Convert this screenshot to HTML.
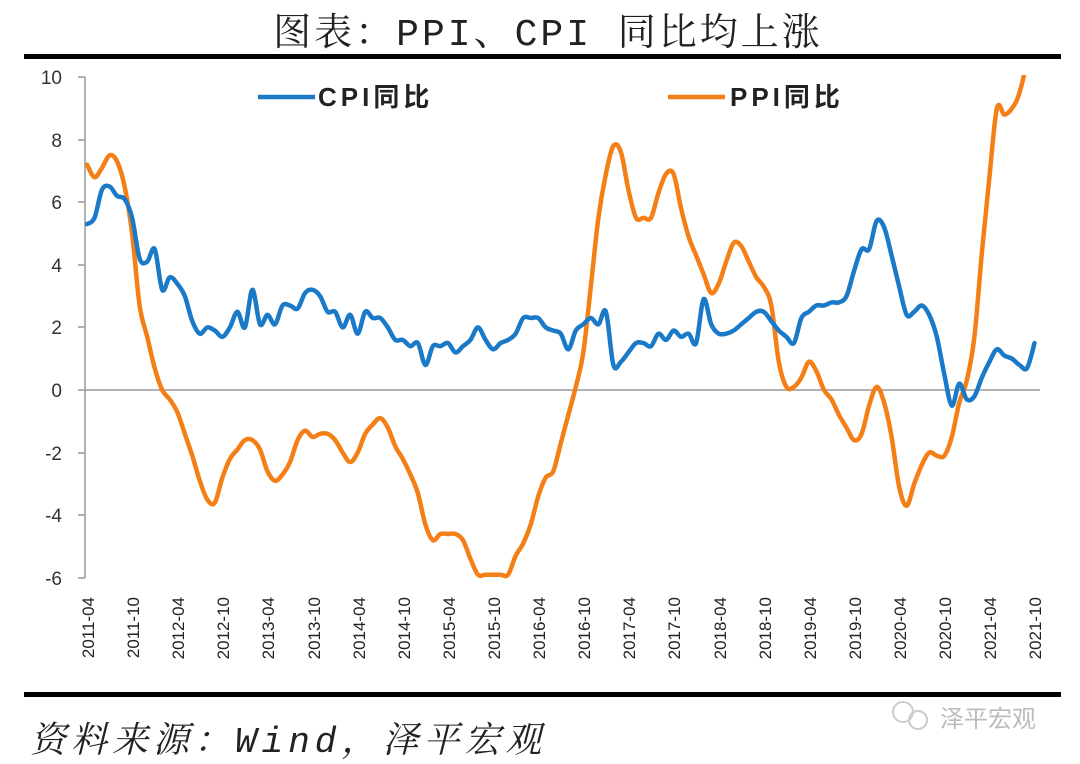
<!DOCTYPE html>
<html><head><meta charset="utf-8"><style>
html,body{margin:0;padding:0;background:#fff;}
body{width:1080px;height:764px;overflow:hidden;position:relative;}
</style></head><body>
<svg width="1080" height="764" xmlns="http://www.w3.org/2000/svg" style="position:absolute;left:0;top:0">
<text x="548" y="45" text-anchor="middle" font-family="Liberation Mono, Noto Serif CJK SC, serif" font-size="38" letter-spacing="3" fill="#222">图表：PPI、CPI 同比均上涨</text>
<rect x="24" y="54" width="1037" height="5" fill="#000"/>
<rect x="24" y="692" width="1037" height="5" fill="#000"/>
<g stroke="#999" stroke-width="1.5">
<line x1="85" y1="77" x2="85" y2="578"/>
<line x1="85" y1="390" x2="1040" y2="390"/>
<line x1="78" y1="77" x2="85" y2="77"/><line x1="78" y1="140" x2="85" y2="140"/><line x1="78" y1="202" x2="85" y2="202"/><line x1="78" y1="265" x2="85" y2="265"/><line x1="78" y1="327" x2="85" y2="327"/><line x1="78" y1="390" x2="85" y2="390"/><line x1="78" y1="453" x2="85" y2="453"/><line x1="78" y1="515" x2="85" y2="515"/><line x1="78" y1="578" x2="85" y2="578"/>
</g>
<g font-family="Liberation Sans, sans-serif" font-size="19" fill="#333" text-anchor="end">
<text x="62" y="84">10</text><text x="62" y="147">8</text><text x="62" y="209">6</text><text x="62" y="272">4</text><text x="62" y="334">2</text><text x="62" y="397">0</text><text x="62" y="460">-2</text><text x="62" y="522">-4</text><text x="62" y="585">-6</text>
</g>
<g font-family="Liberation Sans, sans-serif" font-size="17" fill="#222" text-anchor="end">
<text transform="translate(94,597) rotate(-90)">2011-04</text>
<text transform="translate(139,597) rotate(-90)">2011-10</text>
<text transform="translate(184,597) rotate(-90)">2012-04</text>
<text transform="translate(229,597) rotate(-90)">2012-10</text>
<text transform="translate(274,597) rotate(-90)">2013-04</text>
<text transform="translate(320,597) rotate(-90)">2013-10</text>
<text transform="translate(365,597) rotate(-90)">2014-04</text>
<text transform="translate(410,597) rotate(-90)">2014-10</text>
<text transform="translate(455,597) rotate(-90)">2015-04</text>
<text transform="translate(500,597) rotate(-90)">2015-10</text>
<text transform="translate(545,597) rotate(-90)">2016-04</text>
<text transform="translate(590,597) rotate(-90)">2016-10</text>
<text transform="translate(635,597) rotate(-90)">2017-04</text>
<text transform="translate(680,597) rotate(-90)">2017-10</text>
<text transform="translate(726,597) rotate(-90)">2018-04</text>
<text transform="translate(771,597) rotate(-90)">2018-10</text>
<text transform="translate(816,597) rotate(-90)">2019-04</text>
<text transform="translate(861,597) rotate(-90)">2019-10</text>
<text transform="translate(906,597) rotate(-90)">2020-04</text>
<text transform="translate(951,597) rotate(-90)">2020-10</text>
<text transform="translate(996,597) rotate(-90)">2021-04</text>
<text transform="translate(1041,597) rotate(-90)">2021-10</text>
</g>
<defs><clipPath id="c"><rect x="85" y="75" width="960" height="510"/></clipPath></defs>
<g clip-path="url(#c)" fill="none" stroke-width="4.5" stroke-linejoin="round" stroke-linecap="round">
<path id="ppi" stroke="#f57f17"/>
<path id="cpi" stroke="#1b7ac8"/>
</g>
<line x1="258" y1="97" x2="315" y2="97" stroke="#1b7ac8" stroke-width="4.5"/>
<text x="318" y="106" font-family="Liberation Sans, Noto Sans CJK SC, sans-serif" font-weight="bold" font-size="26" letter-spacing="4" fill="#222">CPI同比</text>
<line x1="668" y1="97" x2="725" y2="97" stroke="#f57f17" stroke-width="4.5"/>
<text x="730" y="106" font-family="Liberation Sans, Noto Sans CJK SC, sans-serif" font-weight="bold" font-size="26" letter-spacing="4" fill="#222">PPI同比</text>
<text x="30" y="752" font-family="Liberation Mono, Noto Serif CJK SC, serif" font-style="italic" font-size="36" letter-spacing="5" fill="#222">资料来源：Wind，泽平宏观</text>
<text x="940" y="727" font-family="Noto Sans CJK SC, sans-serif" font-size="24" fill="#bbb">泽平宏观</text>
<circle cx="903" cy="712" r="10" fill="none" stroke="#ccc" stroke-width="2"/><circle cx="918" cy="720" r="9" fill="none" stroke="#ccc" stroke-width="2"/>
</svg>
<script>
var cpi=[5.3,5.5,6.4,6.5,6.2,6.1,5.5,4.2,4.1,4.5,3.2,3.6,3.4,3.0,2.2,1.8,2.0,1.9,1.7,2.0,2.5,2.0,3.2,2.1,2.4,2.1,2.7,2.7,2.6,3.1,3.2,3.0,2.5,2.5,2.0,2.4,1.8,2.5,2.3,2.3,2.0,1.6,1.6,1.4,1.5,0.8,1.4,1.4,1.5,1.2,1.4,1.6,2.0,1.6,1.3,1.5,1.6,1.8,2.3,2.3,2.3,2.0,1.9,1.8,1.3,1.9,2.1,2.3,2.1,2.5,0.8,0.9,1.2,1.5,1.5,1.4,1.8,1.6,1.9,1.7,1.8,1.5,2.9,2.1,1.8,1.8,1.9,2.1,2.3,2.5,2.5,2.2,1.9,1.7,1.5,2.3,2.5,2.7,2.7,2.8,2.8,3.0,3.8,4.5,4.5,5.4,5.2,4.3,3.3,2.4,2.5,2.7,2.4,1.7,0.5,-0.5,0.2,-0.3,-0.2,0.4,0.9,1.3,1.1,1.0,0.8,0.7,1.5];
var ppi=[7.2,6.8,7.1,7.5,7.3,6.5,5.0,2.7,1.7,0.7,0.0,-0.3,-0.7,-1.4,-2.1,-2.9,-3.5,-3.6,-2.8,-2.2,-1.9,-1.6,-1.6,-1.9,-2.6,-2.9,-2.7,-2.3,-1.6,-1.3,-1.5,-1.4,-1.4,-1.6,-2.0,-2.3,-2.0,-1.4,-1.1,-0.9,-1.2,-1.8,-2.2,-2.7,-3.3,-4.3,-4.8,-4.6,-4.6,-4.6,-4.8,-5.4,-5.9,-5.9,-5.9,-5.9,-5.9,-5.3,-4.9,-4.3,-3.4,-2.8,-2.6,-1.7,-0.8,0.1,1.2,3.3,5.5,6.9,7.8,7.6,6.4,5.5,5.5,5.5,6.3,6.9,6.9,5.8,4.9,4.3,3.7,3.1,3.4,4.1,4.7,4.6,4.1,3.6,3.3,2.7,0.9,0.1,0.1,0.4,0.9,0.6,0.0,-0.3,-0.8,-1.2,-1.6,-1.4,-0.5,0.1,-0.4,-1.5,-3.1,-3.7,-3.0,-2.4,-2.0,-2.1,-2.1,-1.5,-0.4,0.3,1.7,4.4,6.8,9.0,8.8,9.0,9.5,10.7,13.5];
function P(a){var p=a.map(function(v,i){return [87+i*7.52,390-v*31.3];});
var s='M'+p[0][0].toFixed(1)+','+p[0][1].toFixed(1);
for(var i=0;i<p.length-1;i++){var p0=p[i?i-1:0],p1=p[i],p2=p[i+1],p3=p[i+2<p.length?i+2:i+1];
var c1x=p1[0]+(p2[0]-p0[0])/6,c1y=p1[1]+(p2[1]-p0[1])/6,c2x=p2[0]-(p3[0]-p1[0])/6,c2y=p2[1]-(p3[1]-p1[1])/6;
s+='C'+c1x.toFixed(1)+','+c1y.toFixed(1)+' '+c2x.toFixed(1)+','+c2y.toFixed(1)+' '+p2[0].toFixed(1)+','+p2[1].toFixed(1);}
return s;}
document.getElementById('cpi').setAttribute('d',P(cpi));
document.getElementById('ppi').setAttribute('d',P(ppi));
</script>
</body></html>
